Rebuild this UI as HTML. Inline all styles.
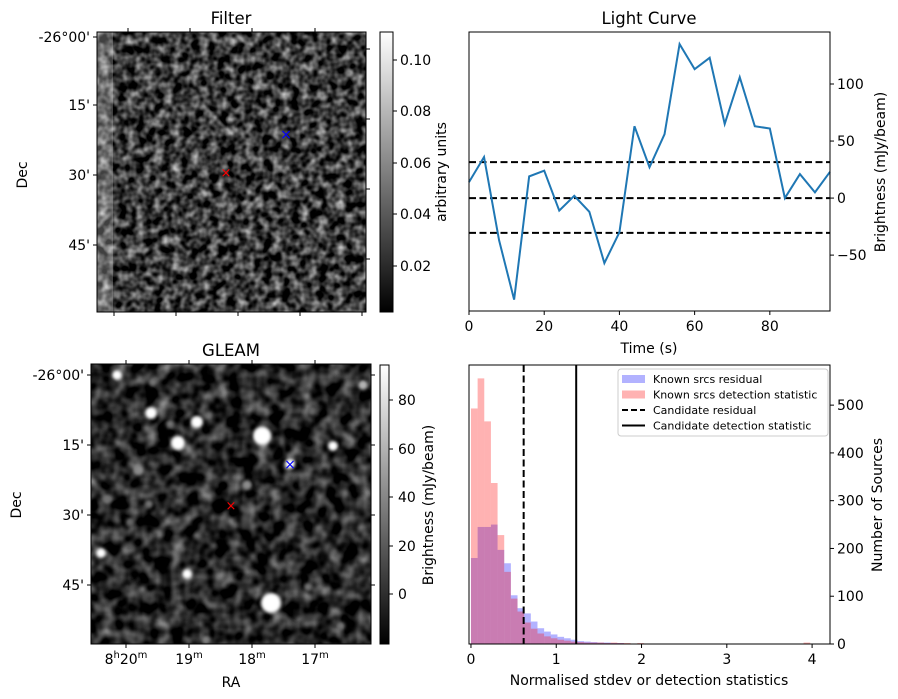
<!DOCTYPE html>
<html><head><meta charset="utf-8"><style>
body{margin:0;background:#fff}
svg{display:block;font-family:"DejaVu Sans","Liberation Sans",sans-serif}
text{fill:#000}
</style></head><body>
<svg id="fig" width="898" height="699" viewBox="0 0 898 699">
<defs>
<filter id="nz1" x="0" y="0" width="100%" height="100%" color-interpolation-filters="sRGB"><feTurbulence type="fractalNoise" baseFrequency="0.11" numOctaves="2" seed="4"/><feColorMatrix type="matrix" values="1.3 0 0 0 -0.42 1.3 0 0 0 -0.42 1.3 0 0 0 -0.42 0 0 0 0 1"/></filter>
<filter id="nz2" x="0" y="0" width="100%" height="100%" color-interpolation-filters="sRGB"><feTurbulence type="fractalNoise" baseFrequency="0.07" numOctaves="2" seed="9"/><feColorMatrix type="matrix" values="1.0 0 0 0 -0.35 1.0 0 0 0 -0.35 1.0 0 0 0 -0.35 0 0 0 0 1"/></filter>
<filter id="blur"><feGaussianBlur stdDeviation="1.5"/></filter>
<linearGradient id="cb" x1="0" y1="1" x2="0" y2="0"><stop offset="0" stop-color="#000"/><stop offset="1" stop-color="#fff"/></linearGradient>
<clipPath id="clipG"><rect x="91" y="364" width="280" height="280"/></clipPath>
</defs>

<g>
<text x="231" y="24" font-size="16.5" text-anchor="middle">Filter</text>
<rect x="97" y="32" width="269" height="280" fill="#333"/>
<rect x="97" y="32" width="269" height="280" filter="url(#nz1)"/>
<rect x="97" y="32" width="16" height="280" fill="#fff" opacity="0.25"/>
<rect x="97" y="32" width="269" height="280" fill="none" stroke="#000" stroke-width="1"/>
<text x="226" y="177" font-size="13" style="fill:red" text-anchor="middle">×</text>
<text x="286" y="139" font-size="14" style="fill:blue" text-anchor="middle">×</text>
<g font-size="14" text-anchor="end">
<text x="90" y="42">-26°00'</text><text x="90" y="110">15'</text><text x="90" y="180">30'</text><text x="90" y="250">45'</text>
<line x1="93" y1="37" x2="97" y2="37" stroke="#000"/><line x1="93" y1="105" x2="97" y2="105" stroke="#000"/><line x1="93" y1="175" x2="97" y2="175" stroke="#000"/><line x1="93" y1="245" x2="97" y2="245" stroke="#000"/>
</g>
<g stroke="#000">
<line x1="114" y1="312" x2="114" y2="316"/><line x1="176" y1="312" x2="176" y2="316"/><line x1="238" y1="312" x2="238" y2="316"/><line x1="300" y1="312" x2="300" y2="316"/><line x1="362" y1="312" x2="362" y2="316"/>
<line x1="128" y1="28" x2="128" y2="32"/><line x1="190" y1="28" x2="190" y2="32"/><line x1="252" y1="28" x2="252" y2="32"/><line x1="315" y1="28" x2="315" y2="32"/>
<line x1="366" y1="49" x2="370" y2="49"/><line x1="366" y1="119" x2="370" y2="119"/><line x1="366" y1="189" x2="370" y2="189"/><line x1="366" y1="259" x2="370" y2="259"/>
</g>
<text transform="translate(27,175) rotate(-90)" font-size="14" text-anchor="middle">Dec</text>
<rect x="380" y="32" width="13" height="280" fill="url(#cb)" stroke="#000"/>
<g font-size="14">
<line x1="393" y1="266" x2="397" y2="266" stroke="#000"/><text x="400" y="271">0.02</text>
<line x1="393" y1="214" x2="397" y2="214" stroke="#000"/><text x="400" y="219">0.04</text>
<line x1="393" y1="163" x2="397" y2="163" stroke="#000"/><text x="400" y="168">0.06</text>
<line x1="393" y1="111" x2="397" y2="111" stroke="#000"/><text x="400" y="116">0.08</text>
<line x1="393" y1="60" x2="397" y2="60" stroke="#000"/><text x="400" y="65">0.10</text>
</g>
<text transform="translate(446,172) rotate(-90)" font-size="14" text-anchor="middle">arbitrary units</text>
</g>

<g>
<text x="231" y="356" font-size="16.5" text-anchor="middle">GLEAM</text>
<rect x="91" y="364" width="280" height="280" fill="#222"/>
<rect x="91" y="364" width="280" height="280" filter="url(#nz2)"/>
<g id="srcs" clip-path="url(#clipG)" filter="url(#blur)"></g>
<rect x="91" y="364" width="280" height="280" fill="none" stroke="#000"/>
<text x="231" y="510" font-size="13" style="fill:red" text-anchor="middle">×</text>
<text x="290" y="469" font-size="14" style="fill:blue" text-anchor="middle">×</text>
<g font-size="14" text-anchor="end">
<text x="84" y="380">-26°00'</text><text x="84" y="450">15'</text><text x="84" y="520">30'</text><text x="84" y="590">45'</text>
<line x1="87" y1="375" x2="91" y2="375" stroke="#000"/><line x1="87" y1="445" x2="91" y2="445" stroke="#000"/><line x1="87" y1="515" x2="91" y2="515" stroke="#000"/><line x1="87" y1="585" x2="91" y2="585" stroke="#000"/>
</g>
<g stroke="#000">
<line x1="126" y1="644" x2="126" y2="648"/><line x1="189" y1="644" x2="189" y2="648"/><line x1="252" y1="644" x2="252" y2="648"/><line x1="315" y1="644" x2="315" y2="648"/>
<line x1="126" y1="360" x2="126" y2="364"/><line x1="189" y1="360" x2="189" y2="364"/><line x1="252" y1="360" x2="252" y2="364"/><line x1="315" y1="360" x2="315" y2="364"/>
<line x1="371" y1="375" x2="375" y2="375"/><line x1="371" y1="445" x2="375" y2="445"/><line x1="371" y1="515" x2="375" y2="515"/><line x1="371" y1="585" x2="375" y2="585"/>
</g>
<g font-size="14" text-anchor="middle">
<text x="126" y="664">8<tspan font-size="10" dy="-6">h</tspan><tspan dy="6">20</tspan><tspan font-size="10" dy="-6">m</tspan></text>
<text x="189" y="664">19<tspan font-size="10" dy="-6">m</tspan></text>
<text x="252" y="664">18<tspan font-size="10" dy="-6">m</tspan></text>
<text x="315" y="664">17<tspan font-size="10" dy="-6">m</tspan></text>
</g>
<text x="231" y="687" font-size="14" text-anchor="middle">RA</text>
<text transform="translate(21,505) rotate(-90)" font-size="14" text-anchor="middle">Dec</text>
<rect x="380" y="365" width="9" height="279" fill="url(#cb)" stroke="#000"/>
<g font-size="14">
<line x1="389" y1="594" x2="393" y2="594" stroke="#000"/><text x="398" y="599">0</text>
<line x1="389" y1="546" x2="393" y2="546" stroke="#000"/><text x="398" y="551">20</text>
<line x1="389" y1="497" x2="393" y2="497" stroke="#000"/><text x="398" y="502">40</text>
<line x1="389" y1="449" x2="393" y2="449" stroke="#000"/><text x="398" y="454">60</text>
<line x1="389" y1="400" x2="393" y2="400" stroke="#000"/><text x="398" y="405">80</text>
</g>
<text transform="translate(433,505) rotate(-90)" font-size="14" text-anchor="middle">Brightness (mJy/beam)</text>
</g>

<g id="lc">
<text x="649" y="24" font-size="16.5" text-anchor="middle">Light Curve</text>
<text x="649" y="353" font-size="14" text-anchor="middle">Time (s)</text>
<text transform="translate(885,172) rotate(-90)" font-size="14" text-anchor="middle">Brightness (mJy/beam)</text>
</g>

<g id="hist">
<text x="649" y="685" font-size="14" text-anchor="middle">Normalised stdev or detection statistics</text>
<text transform="translate(882,505) rotate(-90)" font-size="14" text-anchor="middle">Number of Sources</text>
</g>
</svg>
<script>
const lcTimes = [0,4,8,12,16,20,24,28,32,36,40,44,48,52,56,60,64,68,72,76,80,84,88,92,96];
const lcValues = [14,36,-37,-89,19,24,-11,2,-12,-57,-30,63,27,56,135,113,123,65,106,63,61,0,21,5,23];
const lcThresholds = [31.5,0,-30.5];
const lcXTicks = [0,20,40,60,80];
const lcYTicks = [-50,0,50,100];

const histBinWidth = 0.078;
const histResidualCounts = [180,245,245,250,197,169,102,75,64,47,33,26,20,15,12,9,6,5,4,3,3,2,2,1,1,1,1,0,1,0,0,1,0,0,1,0,0,0,0,0,0,0,0,0,0,0,0,0,0,0];
const histDetectionCounts = [493,556,466,337,228,151,95,68,45,32,22,16,12,9,7,5,4,3,3,3,2,3,2,2,1,2,1,1,0,0,1,0,1,0,0,0,0,0,0,0,0,0,0,0,0,0,0,0,0,0,3];
const candidateResidual = 0.618;
const candidateDetection = 1.234;
const histXTicks = [0,1,2,3,4];
const histYTicks = [0,100,200,300,400,500];

const gleamSrcX = [117,151,197,178,262,333,290,101,187,271,363,139,247,153,170,107,149,130,308,341,206,312];
const gleamSrcY = [375,413,422,443,436,446,464,553,574,603,385,470,485,382,424,500,504,522,587,626,640,411];
const gleamSrcR = [5,6,6,7,9,5,5,5,5,10,5,5,5,4,4,4,4,4,4,4,4,4];
const gleamSrcB = [1,1,1,1,1,1,1,1,1,1,0.7,0.55,0.55,0.45,0.45,0.45,0.45,0.4,0.45,0.45,0.5,0.4];

const NS='http://www.w3.org/2000/svg';
function mk(tag, attrs, parent){const e=document.createElementNS(NS,tag);for(const k in attrs)e.setAttribute(k,attrs[k]);parent.appendChild(e);return e;}

const srcG=document.getElementById('srcs');
for(let i=0;i<gleamSrcX.length;i++){
  const v=Math.round(255*gleamSrcB[i]);
  const c=mk('circle',{cx:gleamSrcX[i],cy:gleamSrcY[i],r:gleamSrcR[i],fill:`rgb(${v},${v},${v})`},srcG);
  
  
}

const LC={x0:469,x1:830,y0:32,y1:311,tmin:0,tmax:96,vmin:-99,vmax:145.6};
const lx=t=>LC.x0+(t-LC.tmin)/(LC.tmax-LC.tmin)*(LC.x1-LC.x0);
const ly=v=>LC.y1-(v-LC.vmin)/(LC.vmax-LC.vmin)*(LC.y1-LC.y0);
const lc=document.getElementById('lc');
for(const th of lcThresholds){
  const l=mk('line',{x1:LC.x0,x2:LC.x1,y1:ly(th),y2:ly(th),stroke:'#000','stroke-width':2,'stroke-dasharray':'7,3.5'},lc);
  
  
}
const pl=mk('polyline',{points:lcTimes.map((t,i)=>lx(t)+','+ly(lcValues[i])).join(' '),fill:'none',stroke:'#1f77b4','stroke-width':2},lc);


mk('rect',{x:LC.x0,y:LC.y0,width:LC.x1-LC.x0,height:LC.y1-LC.y0,fill:'none',stroke:'#000'},lc);
for(const t of lcXTicks){
  mk('line',{x1:lx(t),x2:lx(t),y1:LC.y1,y2:LC.y1+4,stroke:'#000'},lc);
  const tx=mk('text',{x:lx(t),y:LC.y1+20,'font-size':14,'text-anchor':'middle'},lc);tx.textContent=t;
  
  
}
for(const v of lcYTicks){
  mk('line',{x1:LC.x1,x2:LC.x1+4,y1:ly(v),y2:ly(v),stroke:'#000'},lc);
  const tx=mk('text',{x:LC.x1+7,y:ly(v)+5,'font-size':14},lc);tx.textContent=v<0?'−'+(-v):v;
  
  
}

const H={x0:469,x1:830,y0:365,y1:644,xmin:-0.023,xmax:4.21,cmax:584};
const hx=v=>H.x0+(v-H.xmin)/(H.xmax-H.xmin)*(H.x1-H.x0);
const hy=c=>H.y1-c/H.cmax*(H.y1-H.y0);
const hg=document.getElementById('hist');
function bars(counts,color,name){
  counts.forEach((c,i)=>{
    if(c<=0)return;
    const x=hx(i*histBinWidth), w=hx((i+1)*histBinWidth)-x;
    const r=mk('rect',{x:x,y:hy(c),width:w,height:hy(0)-hy(c),fill:color,'fill-opacity':0.3},hg);
    
    
  });
}
bars(histResidualCounts,'#0000ff','residual-bar');
bars(histDetectionCounts,'#ff0000','detection-bar');
let vl=mk('line',{x1:hx(candidateResidual),x2:hx(candidateResidual),y1:H.y0,y2:H.y1,stroke:'#000','stroke-width':2,'stroke-dasharray':'7,3.5'},hg);


vl=mk('line',{x1:hx(candidateDetection),x2:hx(candidateDetection),y1:H.y0,y2:H.y1,stroke:'#000','stroke-width':2},hg);


mk('rect',{x:H.x0,y:H.y0,width:H.x1-H.x0,height:H.y1-H.y0,fill:'none',stroke:'#000'},hg);
for(const t of histXTicks){
  mk('line',{x1:hx(t),x2:hx(t),y1:H.y1,y2:H.y1+4,stroke:'#000'},hg);
  const tx=mk('text',{x:hx(t),y:H.y1+20,'font-size':14,'text-anchor':'middle'},hg);tx.textContent=t;
  
  
}
for(const c of histYTicks){
  mk('line',{x1:H.x1,x2:H.x1+4,y1:hy(c),y2:hy(c),stroke:'#000'},hg);
  const tx=mk('text',{x:H.x1+7,y:hy(c)+5,'font-size':14},hg);tx.textContent=c;
  
  
}
const lg=mk('g',{},hg);


mk('rect',{x:618,y:369,width:210,height:67,rx:3,fill:'#fff','fill-opacity':0.8,stroke:'#ccc'},lg);
const entries=[['Known srcs residual','blue'],['Known srcs detection statistic','red'],['Candidate residual','dash'],['Candidate detection statistic','solid']];
entries.forEach((e,i)=>{
  const y=379+i*15.5;
  if(e[1]==='blue'||e[1]==='red') mk('rect',{x:622,y:y-4,width:23,height:8,fill:e[1]==='blue'?'#0000ff':'#ff0000','fill-opacity':0.3},lg);
  else mk('line',{x1:622,x2:645,y1:y,y2:y,stroke:'#000','stroke-width':2,'stroke-dasharray':e[1]==='dash'?'6,3':'none'},lg);
  const tx=mk('text',{x:653,y:y+4,'font-size':11},lg);tx.textContent=e[0];
  
  
});
</script>
</body></html>
